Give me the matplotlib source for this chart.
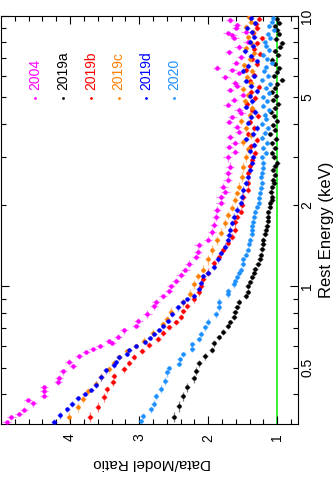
import numpy as np
import matplotlib
matplotlib.use('Agg')
import matplotlib.pyplot as plt
from matplotlib.ticker import FixedLocator, FixedFormatter, FuncFormatter

plt.rcParams['font.family'] = ['Liberation Sans', 'DejaVu Sans']

# series labels / colours (legend order)
labels = ['2004', '2019a', '2019b', '2019c', '2019d', '2020']
colors = ['#ff00ff', '#000000', '#ff0000', '#ff8000', '#0000ff', '#1e90ff']
ratio_err = [0.06, 0.04, 0.04, 0.04, 0.04, 0.035]

# rest energy (keV) and data/model ratio
e_2004 = [0.315, 0.329, 0.338, 0.349, 0.370, 0.380, 0.393, 0.410, 0.424, 0.443,
          0.458, 0.486, 0.507, 0.525, 0.552, 0.571, 0.586, 0.600, 0.616, 0.627,
          0.648, 0.688, 0.712, 0.743, 0.788, 0.844, 0.873, 0.919, 0.958, 1.00,
          1.043, 1.107, 1.155, 1.206, 1.290, 1.346, 1.429, 1.491, 1.595, 1.694,
          1.811, 1.924, 2.042, 2.148, 2.243, 2.339, 2.481, 2.634, 2.772, 3.02,
          3.15, 3.28, 3.40, 3.58, 3.73, 3.89, 4.06, 4.24, 4.37, 4.50,
          4.70, 4.90, 5.10, 5.33, 5.50, 5.66, 5.95, 6.14, 6.32, 6.43,
          6.70, 7.06, 7.35, 7.69, 8.02, 8.30, 8.51, 8.65, 8.73, 9.00,
          9.26, 9.66]
r_2004 = [4.92, 4.85, 4.74, 4.67, 4.54, 4.61, 4.38, 4.38, 4.38, 4.17,
          4.16, 4.10, 3.96, 4.02, 3.87, 3.77, 3.67, 3.57, 3.40, 3.44,
          3.31, 3.22, 3.05, 3.01, 2.88, 2.79, 2.76, 2.65, 2.57, 2.54,
          2.47, 2.40, 2.33, 2.28, 2.18, 2.15, 2.14, 2.00, 1.94, 1.92,
          1.89, 1.87, 1.82, 1.82, 1.75, 1.78, 1.72, 1.71, 1.68, 1.72,
          1.61, 1.70, 1.61, 1.68, 1.55, 1.58, 1.70, 1.65, 1.52, 1.56,
          1.72, 1.63, 1.50, 1.68, 1.58, 1.61, 1.75, 1.55, 1.65, 1.87,
          1.60, 1.53, 1.70, 1.56, 1.43, 1.62, 1.65, 1.72, 1.46, 1.60,
          1.58, 1.68]

e_2019a = [0.329, 0.361, 0.393, 0.424, 0.458, 0.486, 0.520, 0.552, 0.580, 0.616,
           0.648, 0.677, 0.712, 0.736, 0.768, 0.802, 0.837, 0.873, 0.919, 0.950,
           1.00, 1.04, 1.08, 1.12, 1.16, 1.21, 1.26, 1.31, 1.37, 1.43,
           1.49, 1.56, 1.62, 1.68, 1.74, 1.81, 1.88, 1.96, 2.04, 2.09,
           2.15, 2.24, 2.34, 2.41, 2.48, 2.59, 2.70, 2.79, 2.87, 3.00,
           3.12, 3.25, 3.38, 3.52, 3.66, 3.80, 3.95, 4.10, 4.25, 4.40,
           4.56, 4.72, 4.89, 5.06, 5.24, 5.42, 5.61, 5.80, 6.00, 6.21,
           6.43, 6.66, 6.90, 7.15, 7.40, 7.66, 7.95, 8.25, 8.55, 8.85,
           9.15, 9.45, 9.75]
r_2019a = [2.50, 2.43, 2.37, 2.30, 2.21, 2.17, 2.13, 2.05, 1.95, 1.92,
           1.85, 1.78, 1.72, 1.68, 1.63, 1.61, 1.58, 1.56, 1.46, 1.43,
           1.43, 1.39, 1.36, 1.33, 1.32, 1.28, 1.25, 1.24, 1.22, 1.21,
           1.20, 1.18, 1.17, 1.15, 1.14, 1.14, 1.13, 1.11, 1.10, 1.08,
           1.07, 1.09, 1.07, 1.05, 1.06, 1.04, 1.06, 1.03, 1.00, 1.05,
           1.07, 1.03, 1.08, 1.02, 1.10, 1.04, 1.06, 1.01, 1.05, 1.09,
           1.03, 0.99, 1.06, 1.02, 1.08, 1.04, 1.00, 0.93, 1.05, 1.01,
           0.97, 1.04, 1.07, 0.99, 1.03, 0.96, 0.93, 1.02, 0.98, 1.00,
           1.04, 0.97, 1.01]

e_2019b = [0.329, 0.358, 0.389, 0.417, 0.443, 0.466, 0.494, 0.520, 0.547, 0.576,
           0.606, 0.637, 0.670, 0.706, 0.736, 0.768, 0.809, 0.844, 0.896, 0.950,
           1.00, 1.061, 1.126, 1.226, 1.290, 1.369, 1.453, 1.529, 1.623, 1.738,
           1.811, 1.892, 2.008, 2.148, 2.28, 2.42, 2.634, 2.78, 2.94, 3.12,
           3.30, 3.48, 3.67, 3.87, 4.07, 4.28, 4.50, 4.73, 4.97, 5.22,
           5.48, 5.75, 6.03, 6.32, 6.62, 6.93, 7.25, 7.58, 7.92, 8.27,
           8.63, 9.00, 9.38, 9.77]
r_2019b = [3.71, 3.60, 3.51, 3.47, 3.38, 3.37, 3.22, 3.14, 3.08, 2.96,
           2.86, 2.73, 2.65, 2.57, 2.47, 2.40, 2.36, 2.30, 2.21, 2.14,
           2.10, 2.07, 2.01, 1.92, 1.85, 1.78, 1.72, 1.65, 1.61, 1.61,
           1.58, 1.53, 1.51, 1.49, 1.43, 1.43, 1.42, 1.40, 1.36, 1.32,
           1.38, 1.30, 1.42, 1.33, 1.40, 1.28, 1.36, 1.44, 1.32, 1.38,
           1.27, 1.40, 1.34, 1.45, 1.30, 1.36, 1.25, 1.33, 1.29, 1.22,
           1.35, 1.29, 1.31, 1.26]

e_2019c = [0.329, 0.358, 0.383, 0.410, 0.435, 0.462, 0.494, 0.520, 0.547, 0.576,
           0.600, 0.627, 0.670, 0.724, 0.760, 0.802, 0.873, 0.934, 1.017, 1.089,
           1.155, 1.258, 1.369, 1.491, 1.582, 1.723, 1.843, 1.957, 2.093, 2.223,
           2.339, 2.547, 2.772, 3.02, 3.22, 3.42, 3.63, 3.85, 4.08, 4.32,
           4.57, 4.83, 5.10, 5.38, 5.67, 5.97, 6.28, 6.60, 6.93, 7.27,
           7.62, 7.98, 8.35, 8.73, 9.12, 9.52, 9.92]
r_2019c = [4.02, 3.89, 3.81, 3.74, 3.63, 3.55, 3.44, 3.37, 3.29, 3.18,
           3.05, 2.93, 2.80, 2.66, 2.60, 2.54, 2.37, 2.26, 2.21, 2.15,
           2.07, 2.01, 1.94, 1.87, 1.82, 1.75, 1.71, 1.65, 1.61, 1.58,
           1.56, 1.51, 1.49, 1.46, 1.42, 1.50, 1.38, 1.45, 1.52, 1.40,
           1.36, 1.47, 1.42, 1.50, 1.38, 1.44, 1.36, 1.48, 1.40, 1.33,
           1.45, 1.38, 1.42, 1.35, 1.46, 1.38, 1.41]

e_2019d = [0.315, 0.334, 0.352, 0.367, 0.386, 0.399, 0.413, 0.431, 0.462, 0.490,
           0.511, 0.525, 0.547, 0.561, 0.580, 0.600, 0.622, 0.643, 0.665, 0.688,
           0.712, 0.748, 0.788, 0.837, 0.873, 0.896, 0.919, 0.975, 1.034, 1.089,
           1.126, 1.185, 1.26, 1.335, 1.405, 1.491, 1.555, 1.623, 1.721, 1.811,
           1.924, 2.042, 2.148, 2.28, 2.42, 2.547, 2.70, 2.87, 3.02, 3.18,
           3.34, 3.50, 3.67, 3.85, 4.03, 4.22, 4.42, 4.62, 4.83, 5.05,
           5.28, 5.52, 5.76, 6.01, 6.27, 6.54, 6.82, 7.11, 7.41, 7.72,
           8.04, 8.37, 8.71, 9.06, 9.42, 9.79]
r_2019d = [4.23, 4.15, 4.04, 3.97, 3.89, 3.79, 3.70, 3.63, 3.55, 3.48,
           3.37, 3.34, 3.29, 3.18, 3.15, 3.05, 2.92, 2.85, 2.78, 2.71,
           2.65, 2.58, 2.52, 2.44, 2.37, 2.30, 2.21, 2.14, 2.11, 2.07,
           2.00, 1.92, 1.86, 1.82, 1.75, 1.72, 1.70, 1.68, 1.65, 1.63,
           1.58, 1.53, 1.51, 1.49, 1.46, 1.43, 1.39, 1.36, 1.35, 1.40,
           1.33, 1.45, 1.35, 1.30, 1.42, 1.38, 1.32, 1.45, 1.36, 1.40,
           1.30, 1.38, 1.45, 1.34, 1.49, 1.42, 1.30, 1.38, 1.47, 1.35,
           1.40, 1.33, 1.37, 1.44, 1.32, 1.38]

e_2020 = [0.318, 0.331, 0.352, 0.367, 0.393, 0.417, 0.446, 0.482, 0.498, 0.516,
          0.538, 0.561, 0.586, 0.611, 0.637, 0.665, 0.706, 0.736, 0.788, 0.837,
          0.873, 0.934, 0.958, 1.017, 1.05, 1.08, 1.12, 1.155, 1.21, 1.258,
          1.31, 1.369, 1.43, 1.491, 1.56, 1.623, 1.68, 1.738, 1.81, 1.892,
          1.97, 2.042, 2.13, 2.223, 2.32, 2.42, 2.53, 2.634, 2.75, 2.87,
          3.00, 3.12, 3.26, 3.40, 3.55, 3.70, 3.85, 4.00, 4.16, 4.32,
          4.49, 4.66, 4.84, 5.02, 5.21, 5.40, 5.60, 5.81, 6.02, 6.24,
          6.47, 6.71, 6.95, 7.20, 7.46, 7.73, 8.01, 8.30, 8.60, 8.90,
          9.20, 9.50, 9.80]
r_2020 = [2.98, 2.95, 2.83, 2.79, 2.76, 2.69, 2.62, 2.59, 2.57, 2.43,
          2.41, 2.36, 2.23, 2.23, 2.14, 2.11, 2.04, 2.01, 1.89, 1.85,
          1.84, 1.72, 1.71, 1.63, 1.61, 1.58, 1.55, 1.53, 1.50, 1.49,
          1.46, 1.43, 1.41, 1.39, 1.37, 1.36, 1.36, 1.35, 1.33, 1.32,
          1.29, 1.27, 1.26, 1.25, 1.23, 1.22, 1.23, 1.22, 1.21, 1.20,
          1.22, 1.17, 1.20, 1.15, 1.22, 1.18, 1.14, 1.22, 1.16, 1.18,
          1.12, 1.20, 1.15, 1.21, 1.12, 1.17, 1.10, 1.22, 1.13, 1.19,
          1.17, 1.08, 1.15, 1.20, 1.12, 1.16, 1.18, 1.10, 1.14, 1.05,
          1.12, 1.08, 1.06]

energies = [e_2004, e_2019a, e_2019b, e_2019c, e_2019d, e_2020]
ratios = [r_2004, r_2019a, r_2019b, r_2019c, r_2019d, r_2020]


def bin_errors(e):
    # half-widths of the energy bins, edges halfway (in log) between points
    e = np.asarray(e)
    edges = np.sqrt(e[1:] * e[:-1])
    lo = np.concatenate([[e[0] ** 2 / edges[0]], edges])
    hi = np.concatenate([edges, [e[-1] ** 2 / edges[-1]]])
    return np.vstack([e - lo, hi - e])


fig = plt.figure(figsize=(3.35, 4.91), dpi=100)
# the whole plot is turned on its side: ratio runs right->left, energy bottom->top
ax = fig.add_axes([1 / 335, 67 / 491, 297 / 335, 408 / 491])
ax.set_yscale('log')
ax.set_xlim(5, 0.7)
ax.set_ylim(0.31, 10)

ax.axvline(1, color='#00ee00', lw=1.1, zorder=1)

for e, r, c, re in zip(energies, ratios, colors, ratio_err):
    ax.errorbar(r, e, xerr=re, yerr=bin_errors(e), fmt='o', ms=3.2, mew=0,
                color=c, ecolor=c, elinewidth=0.9, zorder=3, capsize=0)
# lighter error bars
for coll in ax.collections:
    coll.set_alpha(0.5)

ax.xaxis.set_major_locator(FixedLocator([1, 2, 3, 4]))
ax.xaxis.set_minor_locator(FixedLocator(np.arange(0.8, 4.95, 0.2)))
ax.yaxis.set_major_locator(FixedLocator([1, 10]))
ax.yaxis.set_minor_locator(FixedLocator([0.4, 0.5, 0.6, 0.7, 0.8, 0.9,
                                         2, 3, 4, 5, 6, 7, 8, 9]))
ax.yaxis.set_major_formatter(FixedFormatter(['1', '10']))
minor_labels = {0.5: '0.5', 2.0: '2', 5.0: '5'}
ax.yaxis.set_minor_formatter(FuncFormatter(lambda v, p: minor_labels.get(round(v, 1), '')))

ax.tick_params(which='both', direction='in', top=True, bottom=True,
               left=True, right=True, labelleft=False, labelright=True,
               width=0.8, labelsize=10)
ax.tick_params(which='major', length=6)
ax.tick_params(which='minor', length=3.5)
ax.tick_params(axis='x', which='both', labelrotation=90, pad=7)
ax.tick_params(axis='y', which='both', labelrotation=90, pad=1.5)
for lbl in ax.get_yticklabels(which='both'):
    lbl.set_va('center')
for sp in ax.spines.values():
    sp.set_linewidth(0.8)

# legend, drawn by hand because it is rotated too
x0, step = 0.116, 0.0933
for i, (lab, c) in enumerate(zip(labels, colors)):
    ax.text(x0 + i * step, 0.818, lab, rotation=90, ha='center', va='bottom',
            color=c, fontsize=10, transform=ax.transAxes)
    ax.plot(x0 + i * step, 0.799, 'o', ms=2, mew=0, color=c,
            transform=ax.transAxes, clip_on=False)

fig.text(152 / 335, 1 - 463 / 491, 'Data/Model Ratio', rotation=180,
         ha='center', va='center', fontsize=11)
fig.text(326 / 335, 1 - 230 / 491, 'Rest Energy (keV)', rotation=90,
         ha='center', va='center', fontsize=12)

fig.savefig('out.png', dpi=100)
